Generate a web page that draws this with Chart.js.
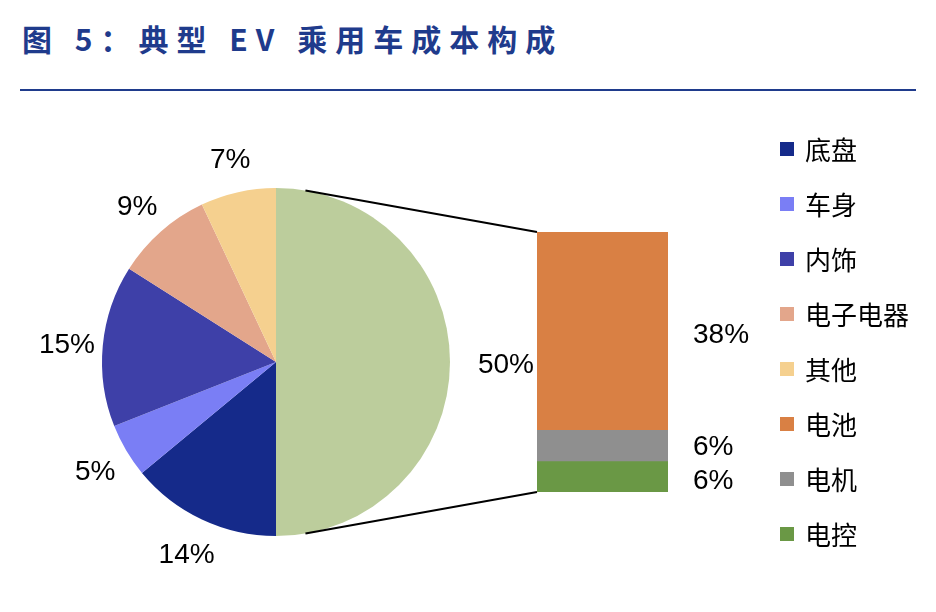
<!DOCTYPE html>
<html><head><meta charset="utf-8">
<script src="https://cdn.jsdelivr.net/npm/chart.js@4"></script>
<style>
body{margin:0;width:936px;height:612px;background:#fff;position:relative;overflow:hidden;font-family:"Noto Sans CJK SC",Arial,sans-serif}
#title{position:absolute;left:22px;top:16px;font-size:30px;font-weight:bold;color:#1f3b8c;letter-spacing:8px}
#rule{position:absolute;left:20px;top:89px;width:896px;height:2px;background:#1f3b8c}
canvas{position:absolute}
#legend{position:absolute;left:780px;top:130px}
.li{height:55px;display:flex;align-items:flex-start;font-size:26px;color:#000;line-height:38px}
.sq{width:14px;height:14px;margin:12px 11px 0 0}
</style></head><body>
<div id="title">图 5：典型 EV 乘用车成本构成</div>
<div id="rule"></div>
<canvas id="pie" style="left:0;top:100px" width="540" height="500"></canvas>
<canvas id="bar" style="left:537px;top:220px" width="250" height="290"></canvas>
<canvas id="ov" style="left:0;top:0" width="936" height="612"></canvas>
<div id="legend"></div>
<script>
const pieLabels=["其他/电池电机电控","底盘","车身","内饰","电子电器","其他"];
const pieValues=[50,14,5,15,9,7];
const pieColors=["#bccd9c","#152a8a","#7a7ef5","#3e40a8","#e3a68b","#f5d08f"];
const barLabels=["电池","电机","电控"];
const barValues=[38,6,6];
const barColors=["#d98044","#8f8f8f","#6a9845"];
const legendLabels=["底盘","车身","内饰","电子电器","其他","电池","电机","电控"];
const legendColors=["#152a8a","#7a7ef5","#3e40a8","#e3a68b","#f5d08f","#d98044","#8f8f8f","#6a9845"];
const FONT='28px Arial, "Liberation Sans", sans-serif';

document.getElementById('legend').innerHTML=legendLabels.map((l,i)=>`<div class="li"><div class="sq" style="background:${legendColors[i]}"></div>${l}</div>`).join('');

const pieLbl={id:'pl',afterDraw(c){const ctx=c.ctx;ctx.save();ctx.font=FONT;ctx.fillStyle='#000';ctx.textAlign='center';ctx.textBaseline='middle';
 c.getDatasetMeta(0).data.forEach((a,i)=>{const m=(a.startAngle+a.endAngle)/2;const r=a.outerRadius+(i===0?56:36);
 ctx.fillText(pieValues[i]+'%',a.x+Math.cos(m)*r,a.y+Math.sin(m)*r+3);});ctx.restore();}};
const pie=new Chart(document.getElementById('pie'),{type:'pie',
 data:{labels:pieLabels,datasets:[{data:pieValues,backgroundColor:pieColors,borderWidth:0}]},
 options:{responsive:false,animation:false,rotation:0,layout:{padding:{left:102,right:90,top:88,bottom:64}},
 plugins:{legend:{display:false},tooltip:{enabled:false}}},plugins:[pieLbl]});

const barLbl={id:'bl',afterDraw(c){const ctx=c.ctx;ctx.save();ctx.font=FONT;ctx.fillStyle='#000';ctx.textAlign='left';ctx.textBaseline='middle';
 barValues.forEach((v,i)=>{const b=c.getDatasetMeta(i).data[0];let y=(b.y+b.base)/2;if(i===0)y+=4;if(i===1)y+=2;if(i===2)y+=5;
 ctx.fillText(v+'%',b.x+b.width/2+25,y);});ctx.restore();}};
const bar=new Chart(document.getElementById('bar'),{type:'bar',
 data:{labels:[''],datasets:barLabels.map((l,i)=>({label:l,data:[barValues[i]],backgroundColor:barColors[i],borderWidth:0}))},
 options:{responsive:false,animation:false,layout:{padding:{left:0,right:119,top:12,bottom:18}},
 datasets:{bar:{barPercentage:1,categoryPercentage:1}},
 scales:{x:{stacked:true,display:false},y:{stacked:true,display:false,min:0,max:50,reverse:true}},
 plugins:{legend:{display:false},tooltip:{enabled:false}}},plugins:[barLbl]});

const ov=document.getElementById('ov').getContext('2d');
const a0=pie.getDatasetMeta(0).data[0];
const cx=a0.x,cy=a0.y+100,R=a0.outerRadius;
const ca=bar.chartArea;
const bx=537+ca.left,bt=220+ca.top,bb=220+ca.bottom;
const ang=0.17;
ov.strokeStyle='#000';ov.lineWidth=2;ov.beginPath();
ov.moveTo(cx+R*Math.sin(ang),cy-R*Math.cos(ang));ov.lineTo(bx,bt);
ov.moveTo(cx+R*Math.sin(ang),cy+R*Math.cos(ang));ov.lineTo(bx,bb);ov.stroke();
</script></body></html>
